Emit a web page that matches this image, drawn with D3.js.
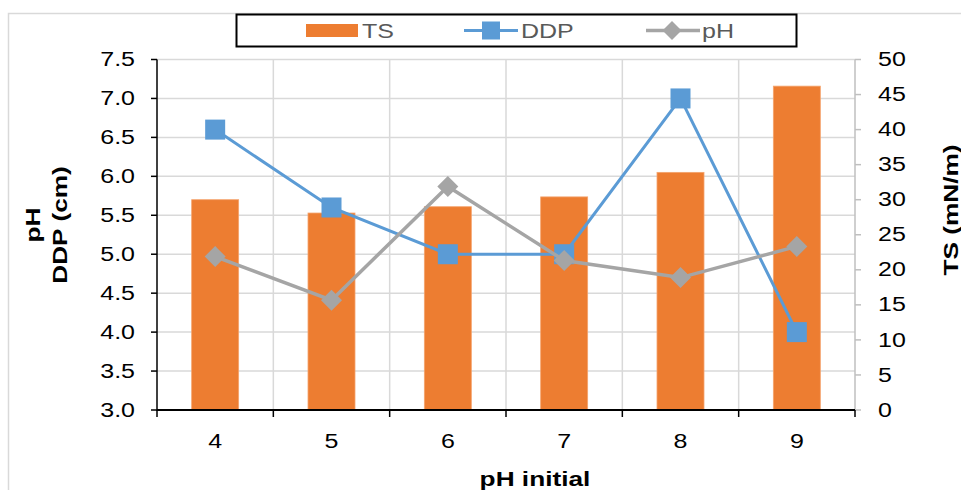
<!DOCTYPE html>
<html><head><meta charset="utf-8">
<script src="https://cdn.jsdelivr.net/npm/d3@7"></script>
<style>body{margin:0;background:#fff}svg{display:block}text{font-family:"Liberation Sans",Arial,sans-serif}</style>
</head><body><svg id="c" width="961" height="490"></svg>
<script>
const categories = ["4","5","6","7","8","9"];
const tsValues = [30.0, 28.1, 29.0, 30.4, 33.9, 46.2];
const ddpValues = [6.6, 5.6, 5.0, 5.0, 7.0, 4.0];
const phValues = [4.97, 4.41, 5.87, 4.92, 4.70, 5.10];
const leftTicks = [3.0,3.5,4.0,4.5,5.0,5.5,6.0,6.5,7.0,7.5];
const rightTicks = [0,5,10,15,20,25,30,35,40,45,50];
const xTitle = "pH initial";
const leftTitle = ["pH","DDP (cm)"];
const rightTitle = "TS (mN/m)";
const legendLabels = ["TS","DDP","pH"];

const C_TS="#ED7D31", C_DDP="#5B9BD5", C_PH="#A5A5A5";
const SX = 1.25;
const svg = d3.select("#c");
const L=157, R=855, T=59.5, B=410;
const x = d3.scaleBand().domain(categories).range([L,R]).paddingInner(0.596).paddingOuter(0.298);
const step = x.step();
const yL = d3.scaleLinear().domain([3,7.5]).range([B,T]);
const yR = d3.scaleLinear().domain([0,50]).range([B,T]);
const cx = c => x(c)+x.bandwidth()/2;

// outer border
svg.append("rect").attr("x",8.5).attr("y",13.5).attr("width",1000).attr("height",500)
  .attr("fill","none").attr("stroke","#d9d9d9").attr("stroke-width",1.5);

function txt(g, s, px, py, opt){
  const t = g.append("text").attr("transform",`translate(${px},${py})${opt.rot?" rotate(-90)":""} scale(${SX},1)`)
    .attr("text-anchor",opt.anchor||"middle").attr("font-size",opt.size||20)
    .attr("font-weight",opt.bold?"bold":"normal").attr("fill",opt.fill||"#000")
    .attr("dominant-baseline","central").text(s);
  return t;
}

// gridlines
const grid = svg.append("g").attr("stroke","#d9d9d9").attr("stroke-width",1.5);
leftTicks.filter(v=>v>3).forEach(v=>grid.append("line").attr("x1",L).attr("x2",R).attr("y1",yL(v)).attr("y2",yL(v)));
categories.forEach((c,i)=>{ if(i>0){ const xx=L+i*step; grid.append("line").attr("x1",xx).attr("x2",xx).attr("y1",T).attr("y2",B);} });

// bars
svg.append("g").selectAll("rect").data(categories).join("rect")
  .attr("x",c=>x(c)).attr("width",x.bandwidth())
  .attr("y",(c,i)=>yR(tsValues[i])).attr("height",(c,i)=>B-yR(tsValues[i]))
  .attr("fill",C_TS).attr("stroke","#F4A46E").attr("stroke-width",0.8);

// right axis (gray)
const ra = svg.append("g");
ra.append("line").attr("x1",R).attr("x2",R).attr("y1",T).attr("y2",B).attr("stroke","#bfbfbf").attr("stroke-width",1.5);
rightTicks.forEach(v=>{
  ra.append("line").attr("x1",R).attr("x2",R+6).attr("y1",yR(v)).attr("y2",yR(v)).attr("stroke","#bfbfbf").attr("stroke-width",1.5);
  txt(ra, String(v), 878, yR(v), {anchor:"start"});
});
// left axis
const la = svg.append("g");
la.append("line").attr("x1",L).attr("x2",L).attr("y1",T).attr("y2",B+1).attr("stroke","#000").attr("stroke-width",1.5);
leftTicks.forEach(v=>{
  la.append("line").attr("x1",L-6).attr("x2",L).attr("y1",yL(v)).attr("y2",yL(v)).attr("stroke","#000").attr("stroke-width",1.5);
  txt(la, v.toFixed(1), 135, yL(v), {anchor:"end"});
});
// x axis
const xa = svg.append("g");
xa.append("line").attr("x1",L).attr("x2",R).attr("y1",B).attr("y2",B).attr("stroke","#000").attr("stroke-width",2);
d3.range(categories.length+1).forEach(i=>{
  const xx=L+i*step;
  xa.append("line").attr("x1",xx).attr("x2",xx).attr("y1",B).attr("y2",B+7).attr("stroke","#000").attr("stroke-width",1.5);
});
categories.forEach(c=>txt(xa, c, cx(c), 441, {}));

// lines
const line = (vals)=>d3.line().x((d,i)=>cx(categories[i])).y(d=>yL(d))(vals);
svg.append("path").attr("d",line(ddpValues)).attr("fill","none").attr("stroke",C_DDP).attr("stroke-width",3);
svg.append("g").selectAll("rect").data(ddpValues).join("rect")
  .attr("x",(d,i)=>cx(categories[i])-10).attr("y",d=>yL(d)-10).attr("width",20).attr("height",20).attr("fill",C_DDP);
svg.append("path").attr("d",line(phValues)).attr("fill","none").attr("stroke",C_PH).attr("stroke-width",3.5);
const diamond = (px,py,r)=>`M${px},${py-r}L${px+r},${py}L${px},${py+r}L${px-r},${py}Z`;
svg.append("g").selectAll("path").data(phValues).join("path")
  .attr("d",(d,i)=>diamond(cx(categories[i]),yL(d),10.5)).attr("fill",C_PH);

// titles
txt(svg, xTitle, 535, 478, {bold:true, size:21});
txt(svg, leftTitle[0], 32, 225, {bold:true, size:21, rot:true});
txt(svg, leftTitle[1], 59, 225, {bold:true, size:21, rot:true});
txt(svg, rightTitle, 950, 210, {bold:true, size:21, rot:true});

// legend
const lg = svg.append("g");
lg.append("rect").attr("x",236.5).attr("y",14.5).attr("width",560).attr("height",32).attr("fill","#fff").attr("stroke","#000").attr("stroke-width",2);
lg.append("rect").attr("x",306).attr("y",24).attr("width",52).attr("height",13).attr("fill",C_TS);
txt(lg, legendLabels[0], 362, 31, {anchor:"start", fill:"#595959"});
lg.append("line").attr("x1",464).attr("x2",518).attr("y1",30.5).attr("y2",30.5).attr("stroke",C_DDP).attr("stroke-width",3);
lg.append("rect").attr("x",482).attr("y",21.5).attr("width",18).attr("height",18).attr("fill",C_DDP);
txt(lg, legendLabels[1], 521, 31, {anchor:"start", fill:"#595959"});
lg.append("line").attr("x1",646).attr("x2",700).attr("y1",30.5).attr("y2",30.5).attr("stroke",C_PH).attr("stroke-width",3.5);
lg.append("path").attr("d",diamond(672,30.5,9.5)).attr("fill",C_PH);
txt(lg, legendLabels[2], 702, 31, {anchor:"start", fill:"#595959"});
</script></body></html>
